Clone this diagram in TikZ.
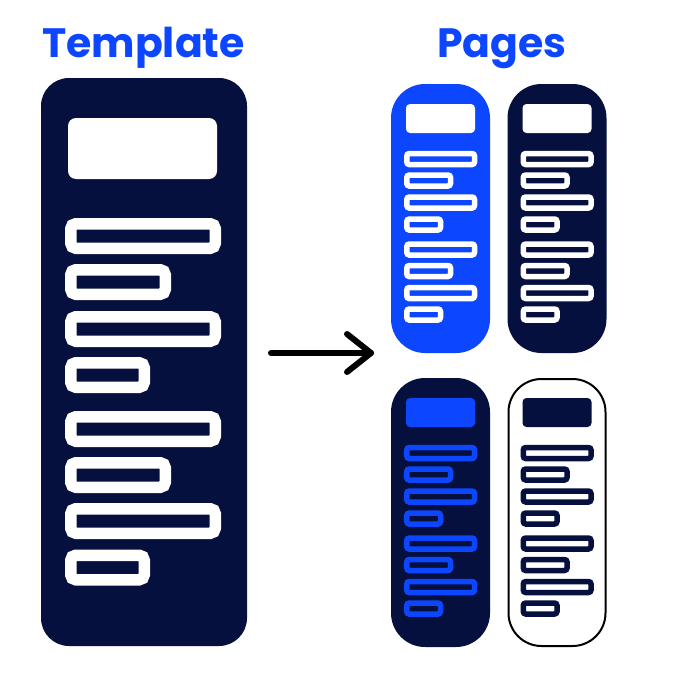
\documentclass[tikz,border=0pt]{standalone}
\usepackage{fontspec}
\setmainfont{Poppins}
\usetikzlibrary{calc}
\definecolor{brandblue}{RGB}{12,70,255}
\definecolor{navy}{RGB}{6,16,62}
\tikzset{
  title/.style={font=\fontsize{41}{41}\selectfont\bfseries, text=brandblue, anchor=base, inner sep=0pt},
  bigbar/.style={draw=white, line width=11.5pt, rounded corners=5pt},
  smallbar/.style={line width=5.5pt, rounded corners=2.5pt},
  arrowline/.style={draw=black, line width=6pt, line cap=round, line join=round}
}
% #1 x, #2 y, #3 card fill, #4 card draw, #5 header fill, #6 bar colour, #7 bar inner fill
\newcommand{\pagecard}[7]{%
  \begin{scope}[shift={(#1,#2)}]
    \draw[fill=#3, draw=#4, line width=2pt, rounded corners=33pt] (0,0) rectangle (97,267);
    \fill[#5, rounded corners=4pt] (14,19) rectangle (83,48);
    \foreach \yc/\xr in {74/82.5, 95.5/58.5, 117.5/82.5, 139.5/48.5, 164.5/82.5, 186/58.5, 208/82.5, 229.5/48.5}{
      \draw[smallbar, draw=#6, fill=#7] (14.75,\yc-5.5) rectangle (\xr,\yc+5.5);
    }
  \end{scope}}
\begin{document}
\begin{tikzpicture}[x=1pt,y=-1pt]
  \useasboundingbox (0,0) rectangle (688,688);
  \fill[white] (0,0) rectangle (688,688);
  % titles
  \node[title] (ttemplate) at (143.5,57) {Template};
  \node[title] (tpages) at (502,57) {Pages};
  % template card
  \fill[navy, rounded corners=28pt] (41,78) rectangle (247,646);
  \fill[white, rounded corners=8pt] (68,118) rectangle (217,179);
  \foreach \yc/\xr in {236/215.25, 282/165.25, 329/215.25, 375/144.25, 429/215.25, 475/165.25, 521/215.25, 567.5/144.25}{
    \draw[bigbar] (70.75,\yc-12.25) rectangle (\xr,\yc+12.25);
  }
  % arrow
  \coordinate (as) at (271,353);
  \coordinate (ae) at (371,353);
  \draw[arrowline] (as) -- (ae);
  \draw[arrowline] ($(ae)+(-24,-19)$) -- (ae) -- ($(ae)+(-24,19)$);
  % pages
  \pagecard{392}{85}{brandblue}{brandblue}{white}{white}{brandblue}
  \pagecard{508.5}{85}{navy}{navy}{white}{white}{navy}
  \pagecard{392}{379}{navy}{navy}{brandblue}{brandblue}{navy}
  \pagecard{508.5}{379}{white}{black}{navy}{navy}{white}
\end{tikzpicture}
\end{document}
